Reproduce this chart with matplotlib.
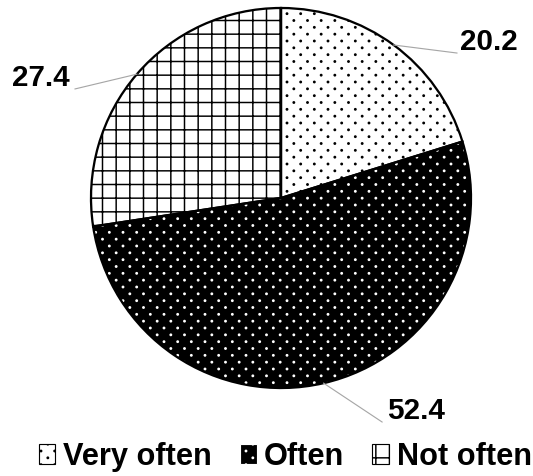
import matplotlib
matplotlib.use("Agg")
import matplotlib.pyplot as plt
import matplotlib.hatch as mhatch
from matplotlib.patches import Patch
from matplotlib.path import Path
import numpy as np

categories = ["Very often", "Often", "Not often"]
values = [20.2, 52.4, 27.4]
labels = ["20.2", "52.4", "27.4"]

faces = ["white", "black", "white"]
hatch_colors = ["black", "white", "black"]
hatches = [".", ".", "+"]


class StaggeredDots(mhatch.HatchPatternBase):
    """Small filled dots: columns 1/n apart, rows 1/(2n) apart, odd rows shifted."""
    size = 0.05

    def __init__(self, hatch, density):
        self.n = int(hatch.count(".") * density)
        circle = Path.unit_circle()
        self.shape_vertices = circle.vertices
        self.shape_codes = circle.codes
        if self.n == 0:
            self.num_vertices = 0
        else:
            n_shapes = (self.n + 1) * (self.n + 1) + self.n * self.n
            self.num_vertices = n_shapes * len(self.shape_vertices)

    def set_vertices_and_codes(self, vertices, codes):
        n = self.n
        shape = self.shape_vertices * self.size / n
        vparts, cparts = [], []
        for row in range(2 * n + 1):
            if row % 2 == 0:
                cols = np.linspace(0, 1, n + 1)
            else:
                cols = np.linspace(0.5 / n, 1 - 0.5 / n, n)
            y = row / (2 * n)
            for x in cols:
                vparts.append(shape + [x, y])
                cparts.append(self.shape_codes)
        np.concatenate(vparts, out=vertices)
        np.concatenate(cparts, out=codes)


mhatch._hatch_types = [t for t in mhatch._hatch_types
                       if t is not mhatch.SmallFilledCircles] + [StaggeredDots]

DPI = 82
W, H = 533, 476
plt.rcParams["font.family"] = ["Liberation Sans", "DejaVu Sans"]
plt.rcParams["hatch.linewidth"] = 1.3

fig = plt.figure(figsize=(W / DPI, H / DPI), dpi=DPI)
ax = fig.add_axes([0, 0, 1, 1])

# pie centre and radius in pixels, used to set data limits
cx, cy, r = 281, 198, 190
xlim = ((0 - cx) / r, (W - cx) / r)
ylim = (-(H - cy) / r, cy / r)

# hatched fills (hatch colour follows edge colour)
wedges, _ = ax.pie(values, startangle=90, counterclock=False, radius=1,
                   colors=faces, wedgeprops=dict(linewidth=0))
for w, hc, h in zip(wedges, hatch_colors, hatches):
    w.set_edgecolor(hc)
    w.set_hatch(h)
    w.set_linewidth(0)

# black outlines on top
ax.pie(values, startangle=90, counterclock=False, radius=1,
       wedgeprops=dict(fill=False, edgecolor="black", linewidth=2))
ax.set_xlim(*xlim)
ax.set_ylim(*ylim)
ax.set_aspect("auto")
ax.axis("off")

# value labels with leader lines
line_ends = [(0.926, 0.763), (0.532, -1.179), (-1.084, 0.574)]
text_pos = [(0.942, 0.82), (0.558, -1.121), (-1.11, 0.632)]
aligns = ["left", "left", "right"]
for w, lab, le, tp, ha in zip(wedges, labels, line_ends, text_pos, aligns):
    mid = np.deg2rad((w.theta1 + w.theta2) / 2)
    x0, y0 = np.cos(mid), np.sin(mid)
    ax.plot([x0, le[0]], [y0, le[1]], color="#a6a6a6", lw=1)
    ax.text(tp[0], tp[1], lab, ha=ha, va="center", fontsize=26,
            fontweight="bold", color="black")

handles = [Patch(facecolor=f, edgecolor=hc, hatch=h, linewidth=1)
           for f, hc, h in zip(faces, hatch_colors, hatches)]
fig.legend(handles, categories, loc="center",
           bbox_to_anchor=(0.535, 1 - 457 / H), ncol=3, frameon=False,
           prop=dict(size=27, weight="bold"), handlelength=0.55,
           handleheight=0.6, handletextpad=0.25, columnspacing=0.9,
           borderpad=0)

fig.savefig("out.png", dpi=DPI)
